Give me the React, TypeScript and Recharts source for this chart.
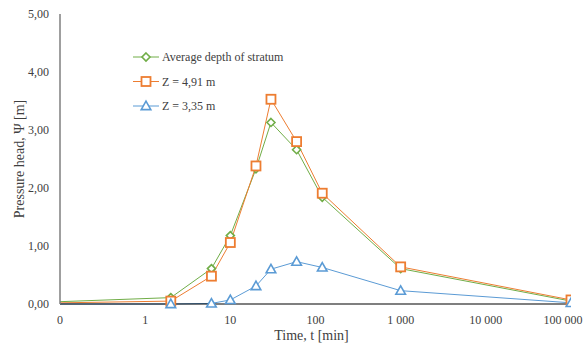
import React from "react";
import { Line, LineChart, XAxis, YAxis } from "recharts";

// time in minutes (0 is plotted at the left end of the log axis)
const times = [0, 2, 6, 10, 20, 30, 60, 120, 1000, 100000];
const averageDepth = [0.04, 0.11, 0.61, 1.18, 2.33, 3.13, 2.66, 1.84, 0.61, 0.05];
const z491 = [0.02, 0.05, 0.48, 1.06, 2.38, 3.53, 2.8, 1.91, 0.64, 0.07];
const z335 = [0.0, 0.0, 0.01, 0.07, 0.31, 0.6, 0.73, 0.63, 0.23, 0.02];

const xTicks = [0.1, 1, 10, 100, 1000, 10000, 100000];
const yTicks = [0, 1, 2, 3, 4, 5];

const GREEN = "#70ad47";
const ORANGE = "#ed7d31";
const BLUE = "#5b9bd5";
const TEXT = "#404040";
const FONT = "'Liberation Serif', 'Times New Roman', serif";

const data = times.map((t, i) => ({
  t: t === 0 ? 0.1 : t,
  first: i === 0,
  avg: averageDepth[i],
  z491: z491[i],
  z335: z335[i]
}));

function Diamond({ cx, cy, color }: { cx: number; cy: number; color: string }) {
  const r = 4;
  return (
    <path
      d={`M${cx},${cy - r} L${cx + r},${cy} L${cx},${cy + r} L${cx - r},${cy} Z`}
      fill="#fff"
      stroke={color}
      strokeWidth={1.6}
    />
  );
}

function Square({ cx, cy, color }: { cx: number; cy: number; color: string }) {
  const r = 4.5;
  return <rect x={cx - r} y={cy - r} width={r * 2} height={r * 2} fill="#fff" stroke={color} strokeWidth={1.8} />;
}

function Triangle({ cx, cy, color }: { cx: number; cy: number; color: string }) {
  const r = 4.8;
  return (
    <path
      d={`M${cx},${cy - r} L${cx + r},${cy + r * 0.75} L${cx - r},${cy + r * 0.75} Z`}
      fill="#fff"
      stroke={color}
      strokeWidth={1.6}
    />
  );
}

const markerDot = (Shape: typeof Diamond, color: string) => (props: any) => {
  const { cx, cy, payload, index } = props;
  if (payload.first) return <g key={index} />;
  return (
    <g key={index}>
      <Shape cx={cx} cy={cy} color={color} />
    </g>
  );
};

const legendItems = [
  { name: "Average depth of stratum", color: GREEN, Shape: Diamond },
  { name: "Z = 4,91 m", color: ORANGE, Shape: Square },
  { name: "Z = 3,35 m", color: BLUE, Shape: Triangle }
];

function ChartLegend() {
  return (
    <svg width={170} height={70} style={{ position: "absolute", left: 131, top: 49 }}>
      {legendItems.map((item, i) => {
        const y = 8 + i * 24.5;
        return (
          <g key={item.name}>
            <line x1={2} x2={28} y1={y} y2={y} stroke={item.color} strokeWidth={1} />
            <item.Shape cx={15} cy={y} color={item.color} />
            <text x={31} y={y + 4} fontSize={12} fontFamily={FONT} fill={TEXT}>
              {item.name}
            </text>
          </g>
        );
      })}
    </svg>
  );
}

const formatTime = (v: number) => (v < 1 ? "0" : String(Math.round(v)).replace(/\B(?=(\d{3})+(?!\d))/g, " "));
const formatHead = (v: number) => v.toFixed(2).replace(".", ",");

const XTick = (props: any) => {
  const { x, y, payload } = props;
  return (
    <text x={x} y={y + 12} textAnchor="middle" fontSize={12} fontFamily={FONT} fill={TEXT}>
      {formatTime(payload.value)}
    </text>
  );
};

const YTick = (props: any) => {
  const { x, y, payload } = props;
  return (
    <text x={x + 3} y={y + 4} textAnchor="end" fontSize={12} fontFamily={FONT} fill={TEXT}>
      {formatHead(payload.value)}
    </text>
  );
};

export default function App() {
  return (
    <div style={{ position: "absolute", left: 0, top: 0, width: 587, height: 346, background: "#fff", fontFamily: FONT }}>
      <LineChart width={587} height={346} data={data} margin={{ top: 14, right: 16, left: 0, bottom: 0 }}>
        <XAxis
          dataKey="t"
          type="number"
          scale="log"
          domain={[0.1, 100000]}
          ticks={xTicks}
          allowDataOverflow
          tickLine={false}
          axisLine={{ stroke: "#000", strokeWidth: 1.2 }}
          tick={XTick}
          height={42}
          label={(props: any) => {
            const { x, width } = props.viewBox;
            return (
              <text x={x + width / 2 - 4} y={340} textAnchor="middle" fontSize={14} fontFamily={FONT} fill={TEXT}>
                Time, t [min]
              </text>
            );
          }}
        />
        <YAxis
          type="number"
          domain={[0, 5]}
          ticks={yTicks}
          width={60}
          tickLine={false}
          axisLine={{ stroke: "#7f7f7f", strokeWidth: 1.5 }}
          tick={YTick}
          tickMargin={8}
          label={(props: any) => {
            const { y, height } = props.viewBox;
            const cy = y + height / 2;
            return (
              <text
                x={19}
                y={cy}
                transform={`rotate(-90 19 ${cy})`}
                textAnchor="middle"
                dominantBaseline="central"
                fontSize={14}
                fontFamily={FONT}
                fill={TEXT}
              >
                Pressure head, {"\u03a8"} [m]
              </text>
            );
          }}
        />
        <Line
          dataKey="avg"
          name="Average depth of stratum"
          stroke={GREEN}
          strokeWidth={1}
          dot={markerDot(Diamond, GREEN)}
          activeDot={false}
          isAnimationActive={false}
        />
        <Line
          dataKey="z491"
          name="Z = 4,91 m"
          stroke={ORANGE}
          strokeWidth={1}
          dot={markerDot(Square, ORANGE)}
          activeDot={false}
          isAnimationActive={false}
        />
        <Line
          dataKey="z335"
          name="Z = 3,35 m"
          stroke={BLUE}
          strokeWidth={1}
          dot={markerDot(Triangle, BLUE)}
          activeDot={false}
          isAnimationActive={false}
        />
      </LineChart>
      <ChartLegend />
    </div>
  );
}
